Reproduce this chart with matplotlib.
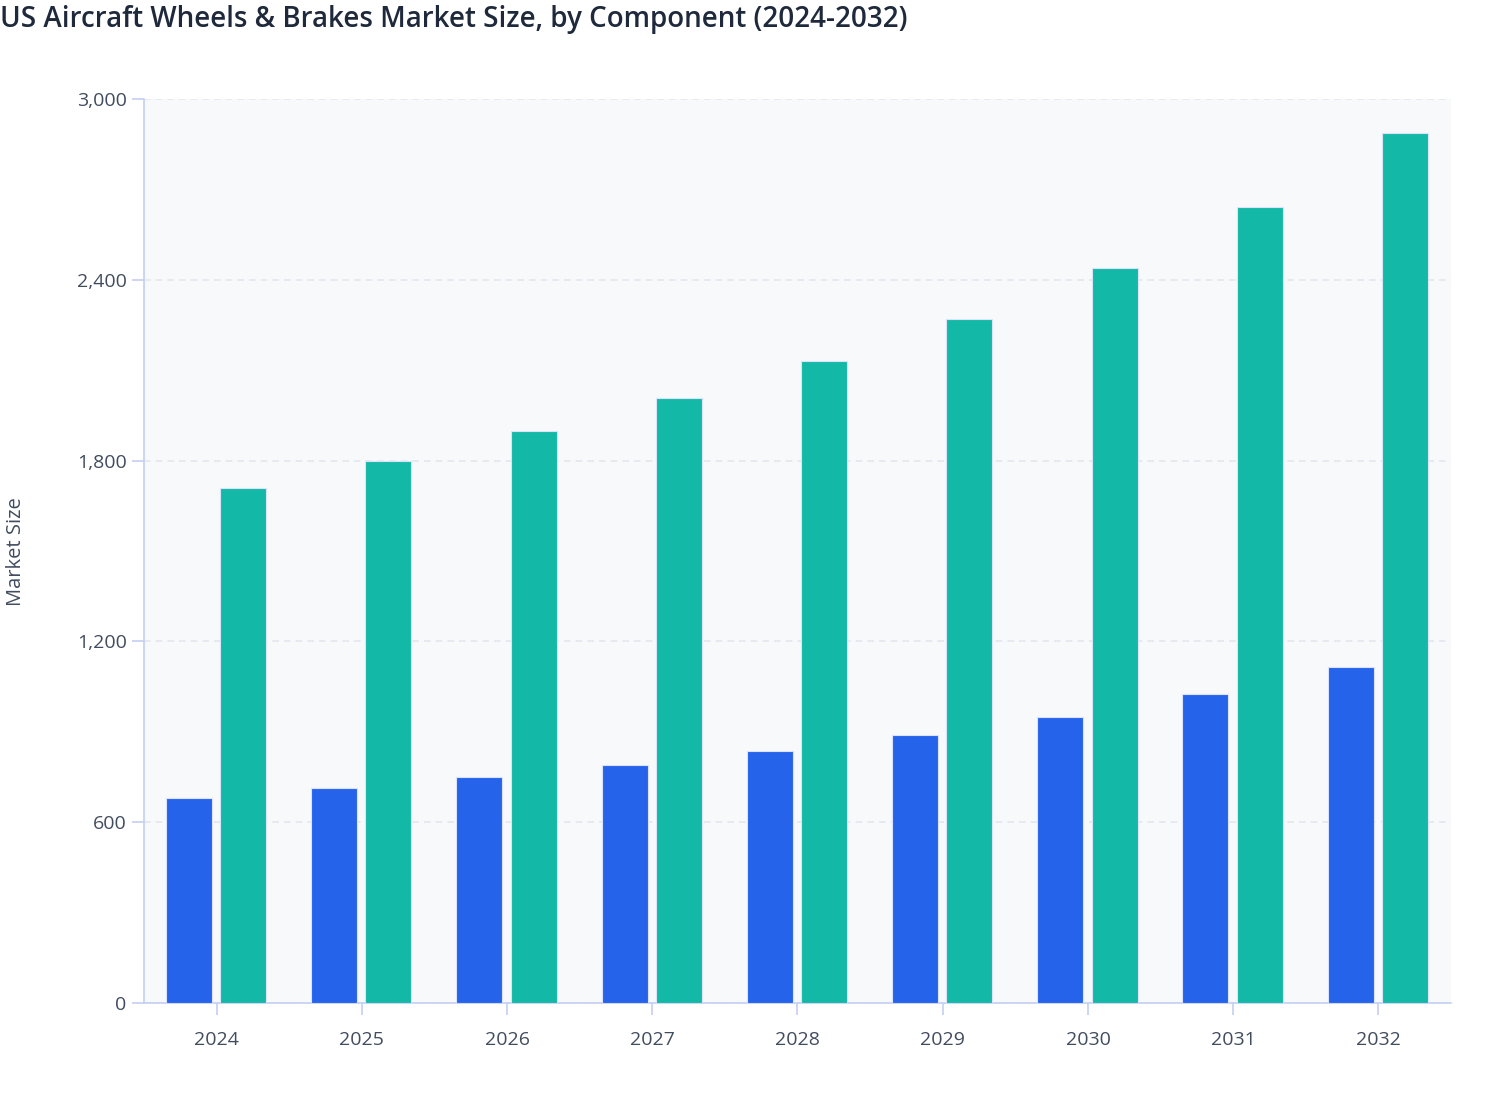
import matplotlib
matplotlib.use("Agg")
import matplotlib.pyplot as plt
import numpy as np

years = ["2024", "2025", "2026", "2027", "2028", "2029", "2030", "2031", "2032"]
wheels = [680, 713, 750, 790, 836, 889, 949, 1025, 1115]
brakes = [1709, 1799, 1898, 2008, 2131, 2270, 2439, 2642, 2887]
yticks = [0, 600, 1200, 1800, 2400, 3000]

plt.rcParams['font.family'] = ['Open Sans', 'DejaVu Sans']

fig = plt.figure(figsize=(15.08, 11.2), dpi=100)
ax = fig.add_axes([144/1508, 117/1120, (1451-144)/1508, 904/1120])
ax.set_facecolor('#f8f9fb')

x = np.arange(len(years))
w = 0.317
off = 0.187
ax.bar(x - off - 0.004, wheels, width=w, color='#2563eb', edgecolor='#dbe3fb', linewidth=0.8, zorder=3)
ax.bar(x + off - 0.004, brakes, width=w, color='#14b8a6', edgecolor='#dbe3fb', linewidth=0.8, zorder=3)

ax.set_xlim(-0.5, len(years) - 0.5)
ax.set_ylim(0, 3000)
ax.set_xticks(x)
ax.set_xticklabels(years)
ax.set_yticks(yticks)
ax.set_yticklabels([f"{v:,}" for v in yticks])

ax.yaxis.grid(True, color='#e3e7ee', linestyle=(0, (4, 3)), linewidth=1.2, zorder=0)
ax.xaxis.grid(False)
for s in ['top', 'right']:
    ax.spines[s].set_visible(False)
for s in ['left', 'bottom']:
    ax.spines[s].set_color('#c3d0f3')
    ax.spines[s].set_linewidth(1.2)

ax.tick_params(axis='both', colors='#c3d0f3', length=8.5, width=1.2, labelcolor='#414c5f', labelsize=14)
ax.tick_params(axis='y', pad=4)
ax.tick_params(axis='x', pad=12)

fig.text(16/1508, 1 - 552/1120, 'Market Size', rotation=90, ha='center', va='center',
         fontsize=14.5, color='#414c5f')
fig.text(0, 1 - 19/1120, 'US Aircraft Wheels & Brakes Market Size, by Component (2024-2032)',
         ha='left', va='center', fontsize=20, fontweight='semibold', color='#1e293b')

fig.savefig('out.png', dpi=100)
